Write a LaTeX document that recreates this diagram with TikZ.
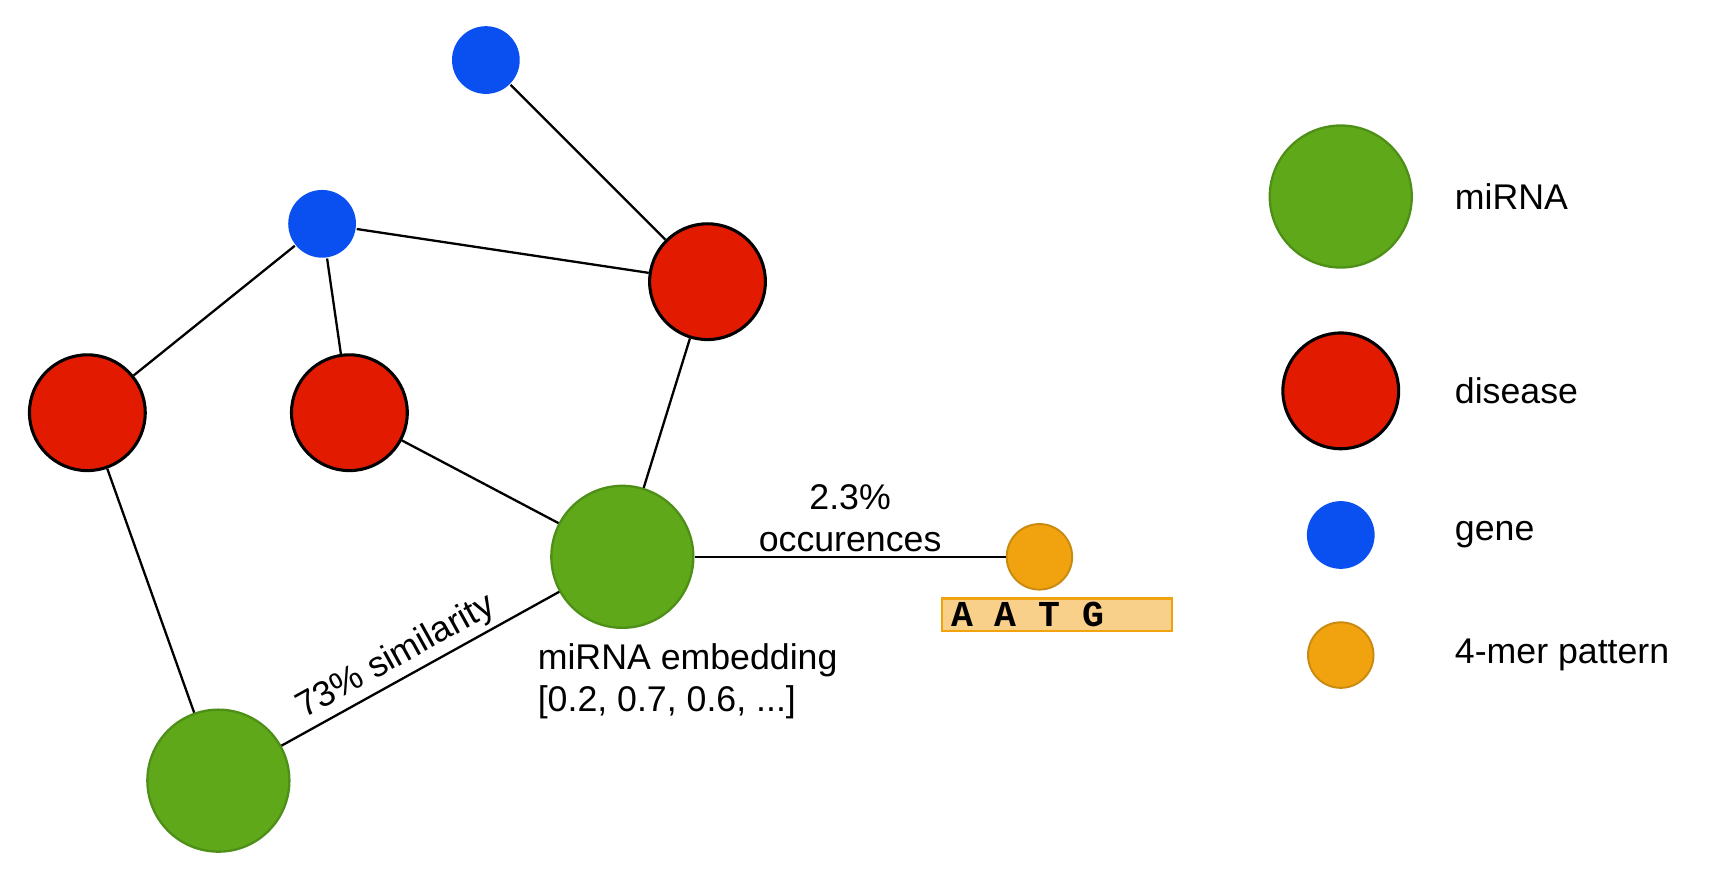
\documentclass[tikz,border=0pt]{standalone}
\usepackage{fontspec}
\setmainfont{Liberation Sans}
\newfontfamily\monofont{Liberation Mono}
\usetikzlibrary{positioning}
\definecolor{mirgreen}{HTML}{5FA81A}
\definecolor{mirborder}{HTML}{4E8F18}
\definecolor{disred}{HTML}{E21B00}
\definecolor{geneblue}{HTML}{0A4FF0}
\definecolor{kmerorange}{HTML}{F0A30F}
\definecolor{kmerborder}{HTML}{C98A10}
\definecolor{seqfill}{HTML}{F8D08A}
\tikzset{mirna/.style={circle, draw=mirborder, fill=mirgreen, line width=0.6pt, minimum size=1.3cm, inner sep=0pt}}
\tikzset{disease/.style={circle, draw=black, fill=disred, line width=0.8pt, minimum size=1.06cm, inner sep=0pt}}
\tikzset{gene/.style={circle, fill=geneblue, minimum size=0.62cm, inner sep=0pt}}
\tikzset{kmer/.style={circle, draw=kmerborder, fill=kmerorange, line width=0.5pt, minimum size=0.6cm, inner sep=0pt}}
\tikzset{lbl/.style={font=\fontsize{9.3}{11}\selectfont, inner sep=1pt}}

\begin{document}
\begin{tikzpicture}[x=0.01cm, y=-0.01cm, line width=0.6pt]
    \useasboundingbox (0,0) rectangle (1568,819);
    % graph
    \node[gene] (g1) at (445,55) {};
    \node[gene] (g2) at (295,205) {};
    \node[disease] (d1) at (648,258) {};
    \node[disease] (d2) at (80,378) {};
    \node[disease] (d3) at (320,378) {};
    \node[mirna] (m1) at (570,510) {};
    \node[mirna] (m2) at (200,715) {};
    \node[kmer] (k1) at (952,510) {};

    \draw (g1) -- (d1);
    \draw (g2) -- (d1);
    \draw (g2) -- (d2);
    \draw (g2) -- (d3);
    \draw (d1) -- (m1);
    \draw (d3) -- (m1);
    \draw (d2) -- (m2);
    \draw (m2) -- node[lbl, sloped, above, pos=0.45] {73\% similarity} (m1);
    \draw (m1) -- node[lbl, above, align=center] {2.3\%\\occurences} (k1);

    \node[lbl, align=left, anchor=north west] (emb) at (488,585) {miRNA embedding\\{[0.2, 0.7, 0.6, ...]}};
    \node[draw=kmerorange, fill=seqfill, minimum width=2.1cm, minimum height=0.3cm, inner sep=0pt,
      anchor=north west] (seq) at (862,547) {};
    \node[font=\monofont\bfseries\fontsize{9.5}{10}\selectfont, anchor=west, inner sep=0pt]
      at ([xshift=0.08cm]seq.west) {A A T G};

    % legend
    \node[mirna] (lm) at (1228,180) {};
    \node[disease] (ld) at (1228,358) {};
    \node[gene] (lg) at (1228,490) {};
    \node[kmer] (lk) at (1228,600) {};
    \node[lbl, anchor=west] at (1328,180) {miRNA};
    \node[lbl, anchor=west] at (1328,358) {disease};
    \node[lbl, anchor=west] at (1328,490) {gene};
    \node[lbl, anchor=west] at (1328,600) {4-mer pattern};
\end{tikzpicture}
\end{document}
